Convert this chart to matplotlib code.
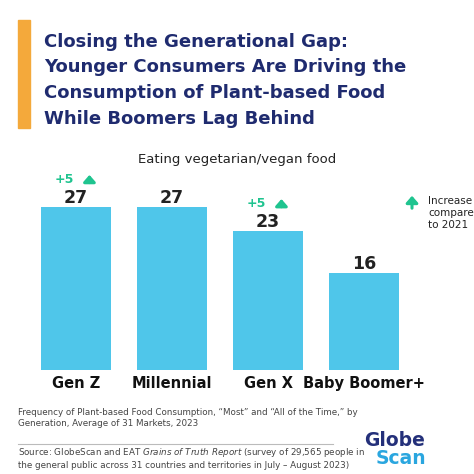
import matplotlib.pyplot as plt
from matplotlib.patches import Rectangle
from matplotlib.lines import Line2D

# Data
generations = ["Gen Z", "Millennial", "Gen X", "Baby Boomer+"]
share       = [27, 27, 23, 16]
change      = ["+5", None, "+5", None]

navy  = "#1f2b6f"
bar_c = "#4fc6ea"
green = "#1fc48f"

fig = plt.figure(figsize=(4.74, 4.74), dpi=100)
fig.patch.set_facecolor("white")

def px(x, y):
    return x / 474, 1 - y / 474

# Title block
fig.patches.append(Rectangle(px(18, 128), 12 / 474, 108 / 474, transform=fig.transFigure,
                             color="#f4a93b", zorder=1))
title = ["Closing the Generational Gap:", "Younger Consumers Are Driving the",
         "Consumption of Plant-based Food", "While Boomers Lag Behind"]
for i, line in enumerate(title):
    fig.text(*px(44, 42 + 25.5 * i), line, color=navy, fontsize=13, fontweight="bold",
             va="center", ha="left")

fig.text(*px(237, 160), "Eating vegetarian/vegan food", fontsize=9.5, color="#222222",
         ha="center", va="center")

# Bars
ax = fig.add_axes([28 / 474, 104 / 474, 384 / 474, 181 / 474])
xs = list(range(len(generations)))
ax.bar(xs, share, width=0.72, color=bar_c)
ax.set_xlim(-0.5, 3.5)
ax.set_ylim(0, 30)
ax.axis("off")
for x, v, c, g in zip(xs, share, change, generations):
    ax.text(x, v + 1.5, str(v), ha="center", va="center", fontsize=12.5, fontweight="bold",
            color="#222222")
    if c:
        ax.text(x - 0.02, v + 4.6, c, ha="right", va="center", fontsize=9, fontweight="bold",
                color=green)
        ax.annotate("", xy=(x + 0.14, v + 5.8), xytext=(x + 0.14, v + 3.6),
                    arrowprops=dict(arrowstyle="-|>,head_width=0.35,head_length=0.4",
                                    color=green, lw=2.2), annotation_clip=False)
    ax.text(x, -2.3, g, ha="center", va="center",
            fontsize=10.5, fontweight="bold", color="#111111")

# Legend
ax.annotate("", xy=(412 / 474, 1 - 193 / 474), xytext=(412 / 474, 1 - 211 / 474),
            xycoords="figure fraction", textcoords="figure fraction",
            arrowprops=dict(arrowstyle="-|>,head_width=0.35,head_length=0.4",
                            color=green, lw=2.2))
fig.text(*px(428, 196), "Increase\ncompared\nto 2021", fontsize=7.5, color="#222222",
         ha="left", va="top", linespacing=1.25)

# Footnotes
fig.text(*px(18, 418), "Frequency of Plant-based Food Consumption, \u201cMost\u201d and \u201cAll of the Time,\u201d by\n"
         "Generation, Average of 31 Markets, 2023", fontsize=6.3, color="#444444",
         ha="left", va="center", linespacing=1.3)
fig.add_artist(Line2D([18 / 474, 333 / 474], [1 - 444 / 474] * 2, color="#bbbbbb", lw=0.8))
fig.text(*px(18, 458), "Source: GlobeScan and EAT $\\it{Grains\\ of\\ Truth\\ Report}$ (survey of 29,565 people in\n"
         "the general public across 31 countries and territories in July \u2013 August 2023)",
         fontsize=6.3, color="#444444", ha="left", va="center", linespacing=1.3)

# Logo
fig.text(*px(364, 440), "Globe", fontsize=13.5, fontweight="bold", color="#24307a",
         ha="left", va="center")
fig.text(*px(376, 459), "Scan", fontsize=13.5, fontweight="bold", color="#2aa6df",
         ha="left", va="center")

fig.savefig("out.png", dpi=100)
